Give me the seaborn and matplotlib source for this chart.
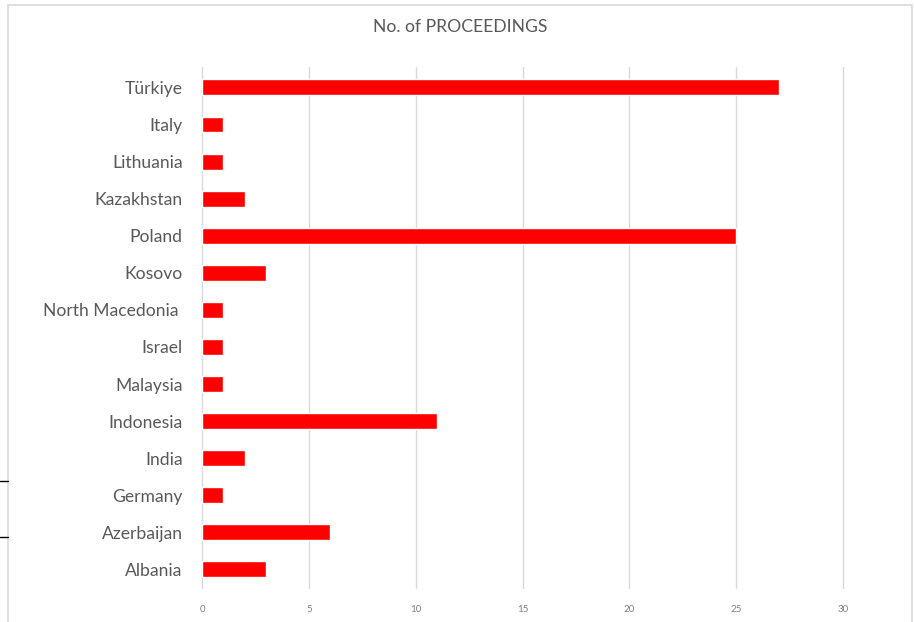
import matplotlib
matplotlib.use("Agg")
import matplotlib.pyplot as plt
import seaborn as sns
import pandas as pd
from matplotlib.patches import Rectangle
from matplotlib.lines import Line2D

countries = ["Türkiye", "Italy", "Lithuania", "Kazakhstan", "Poland", "Kosovo",
             "North Macedonia ", "Israel", "Malaysia", "Indonesia", "India",
             "Germany", "Azerbaijan", "Albania"]
proceedings = [27, 1, 1, 2, 25, 3, 1, 1, 1, 11, 2, 1, 6, 3]
xticks = [0, 5, 10, 15, 20, 25, 30]

df = pd.DataFrame({"country": countries, "n": proceedings})

sns.set_style("white")
plt.rcParams["font.family"] = ["Lato", "DejaVu Sans"]

fig = plt.figure(figsize=(9.14, 6.22), dpi=100)
ax = fig.add_axes([202/914, 1-588/622, (843-202)/914, (588-67)/622])

sns.barplot(data=df, y="country", x="n", orient="h", color="#FF0000",
            width=0.43, ax=ax, saturation=1)

ax.set_xlim(0, 30)
ax.set_ylim(13.5, -0.55)
ax.set_xticks(xticks)
ax.set_xticklabels([str(t) for t in xticks], fontsize=7, color="#7f7f7f")
ax.tick_params(axis="x", length=0, pad=12)
ax.tick_params(axis="y", length=0, pad=14, labelsize=12.6, labelcolor="#595959")
ax.set_xlabel("")
ax.set_ylabel("")
ax.grid(axis="x", color="#d9d9d9", linewidth=1)
for gl in ax.get_xgridlines():
    gl.set_clip_on(False)
ax.set_axisbelow(True)
for s in ax.spines.values():
    s.set_visible(False)

fig.text(460/914, 1-27/622, "No. of PROCEEDINGS", ha="center", va="center",
         fontsize=12.6, color="#595959")

fig.patches.append(Rectangle((8/914, -0.05), (912-8)/914, 1-5/622+0.05,
                             transform=fig.transFigure, fill=False,
                             edgecolor="#d9d9d9", linewidth=1.2))
for y in (481, 537):
    fig.lines.append(Line2D([0, 8/914], [1-y/622, 1-y/622],
                            transform=fig.transFigure, color="black", linewidth=1))

fig.savefig("out.png", dpi=100)
